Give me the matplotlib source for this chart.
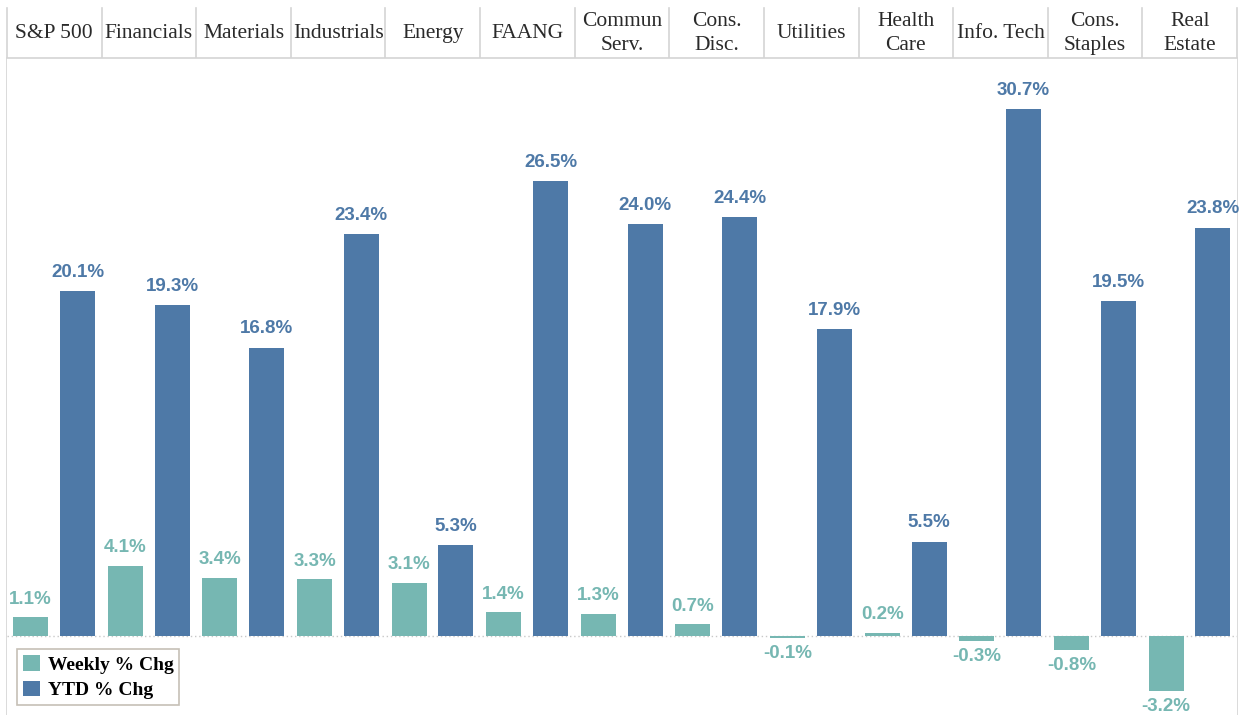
import matplotlib
matplotlib.use("Agg")
import matplotlib.pyplot as plt
from matplotlib.patches import Patch

categories = ["S&P 500", "Financials", "Materials", "Industrials", "Energy", "FAANG",
              "Commun\nServ.", "Cons.\nDisc.", "Utilities", "Health\nCare", "Info. Tech",
              "Cons.\nStaples", "Real\nEstate"]
weekly = [1.1, 4.1, 3.4, 3.3, 3.1, 1.4, 1.3, 0.7, -0.1, 0.2, -0.3, -0.8, -3.2]
ytd = [20.1, 19.3, 16.8, 23.4, 5.3, 26.5, 24.0, 24.4, 17.9, 5.5, 30.7, 19.5, 23.8]

C_WEEK = "#76B7B2"
C_YTD = "#4E79A7"
GRID = "#d4d4d4"

W, H = 1239, 715
fig = plt.figure(figsize=(W / 100, H / 100), dpi=100)
left_px, right_px = 7, 1237
top_px = 58
ax = fig.add_axes([left_px / W, 0, (right_px - left_px) / W, (H - top_px) / H])
n = len(categories)
ax.set_xlim(0, n)
ymax = 33.68
ymin = -4.60
ax.set_ylim(ymin, ymax)
for s in ax.spines.values():
    s.set_visible(False)
ax.set_xticks([])
ax.set_yticks([])

bw = 0.37
xw = [i + 0.25 for i in range(n)]
xy = [i + 0.745 for i in range(n)]
ax.bar(xw, weekly, width=bw, color=C_WEEK, zorder=2)
ax.bar(xy, ytd, width=bw, color=C_YTD, zorder=2)

# baseline
ax.axhline(0, color="#c8c8c8", lw=1, ls=(0, (1, 2)), zorder=1)

lab_font = dict(family="Liberation Sans", fontweight="bold", fontsize=13.5)
for x, v in zip(xw, weekly):
    if v >= 0:
        ax.text(x, v + 0.55, f"{v:.1f}%", ha="center", va="bottom", color=C_WEEK, **lab_font)
    else:
        ax.text(x, v - 0.4, f"{v:.1f}%", ha="center", va="top", color=C_WEEK, **lab_font)
for x, v in zip(xy, ytd):
    ax.text(x, v + 0.6, f"{v:.1f}%", ha="center", va="bottom", color=C_YTD, **lab_font)

# vertical panel lines (full height incl. header)
pw = (right_px - left_px) / n
for i in range(n + 1):
    xp = left_px + i * pw
    fig.add_artist(plt.Line2D([xp / W, xp / W], [0, 1 - 8 / H], color=GRID, lw=1.2,
                              transform=fig.transFigure, zorder=0))
# header bottom line
fig.add_artist(plt.Line2D([left_px / W, right_px / W], [1 - top_px / H] * 2, color=GRID, lw=1.2,
                          transform=fig.transFigure))

for i, c in enumerate(categories):
    xc = (left_px + (i + 0.5) * pw) / W
    fig.text(xc, 1 - 33.5 / H, c, ha="center", va="center", family="Liberation Serif",
             fontsize=15.5, color="#2a2a2a", linespacing=1.3)

# legend
handles = [Patch(facecolor=C_WEEK, edgecolor="none", label="Weekly % Chg"),
           Patch(facecolor=C_YTD, edgecolor="none", label="YTD % Chg")]
leg = ax.legend(handles=handles, loc="lower left", bbox_to_anchor=(10 / 1230, 10 / 657),
                bbox_transform=ax.transAxes, borderaxespad=0, frameon=True, fancybox=False,
                prop=dict(family="Liberation Serif", weight="bold", size=14),
                handlelength=0.88, handleheight=0.88, handletextpad=0.4, labelspacing=0.35,
                borderpad=0.3)
leg.get_frame().set_edgecolor("#b8b0a4")
leg.get_frame().set_linewidth(1.2)

fig.savefig("out.png", dpi=100)
